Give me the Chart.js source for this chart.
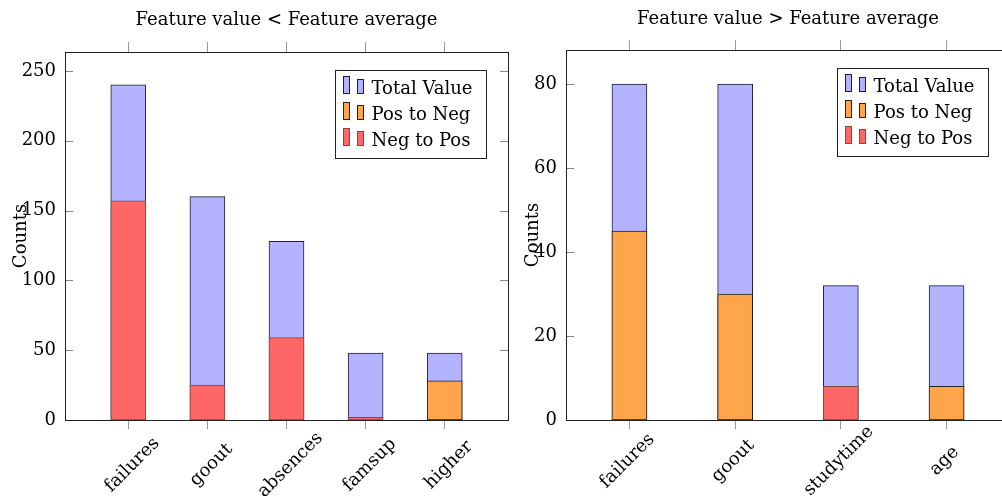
<!DOCTYPE html>
<html>
<head>
<meta charset="utf-8">
<script src="https://cdn.jsdelivr.net/npm/chart.js@4.4.1/dist/chart.umd.min.js"></script>
<style>
  html, body { margin: 0; padding: 0; background: #fff; overflow: hidden; }
  #wrap { position: relative; width: 1002px; height: 496px; overflow: hidden; }
  canvas { position: absolute; top: 0; }
  #leftChart { left: 0; }
  #rightChart { left: 515px; }
</style>
</head>
<body>
<div id="wrap">
  <canvas id="leftChart" width="515" height="496"></canvas>
  <canvas id="rightChart" width="500" height="496"></canvas>
</div>
<script>
// data
const lowCategories = ['failures', 'goout', 'absences', 'famsup', 'higher'];
const lowTotal = [240, 160, 128, 48, 48];
const lowPosToNeg = [null, null, null, null, 28];
const lowNegToPos = [157, 25, 59, 2, null];

const highCategories = ['failures', 'goout', 'studytime', 'age'];
const highTotal = [80, 80, 32, 32];
const highPosToNeg = [45, 30, null, 8];
const highNegToPos = [null, null, 8, null];

const seriesNames = ['Total Value', 'Pos to Neg', 'Neg to Pos'];
const fills = ['#b3b3ff', '#ffa64d', '#ff6666'];
const edges = ['#1c1c3c', '#222222', '#7d4b3a'];

const FONT = '"DejaVu Serif", serif';
const FONT_SIZE = 18;

// turn a value list into {x,y} points on the linear x axis
function toPoints(values) {
  return values.map((v, i) => ({ x: i, y: v }));
}

function makeDatasets(total, posNeg, negPos) {
  return [total, posNeg, negPos].map((vals, k) => ({
    label: seriesNames[k],
    data: toPoints(vals),
    backgroundColor: fills[k],
    borderColor: edges[k],
    borderWidth: 1,
    borderSkipped: false,
    barThickness: 35,
    grouped: false,
    order: 3 - k
  }));
}

// frame, inside y ticks, rotated x labels, title, ylabel and legend
const decorPlugin = {
  id: 'decor',
  afterDraw(chart, args, opts) {
    const ctx = chart.ctx;
    const area = chart.chartArea;
    const xs = chart.scales.x;
    const ys = chart.scales.y;
    ctx.save();

    // inside y ticks on both sides
    ctx.strokeStyle = '#888';
    ctx.lineWidth = 1;
    ys.ticks.forEach(t => {
      const py = Math.round(ys.getPixelForValue(t.value)) + 0.5;
      ctx.beginPath();
      ctx.moveTo(area.left, py); ctx.lineTo(area.left + 8, py);
      ctx.moveTo(area.right - 8, py); ctx.lineTo(area.right, py);
      ctx.stroke();
    });

    // frame
    ctx.strokeStyle = '#222';
    ctx.strokeRect(Math.round(area.left) + 0.5, Math.round(area.top) + 0.5,
      Math.round(area.right - area.left), Math.round(area.bottom - area.top));

    ctx.fillStyle = '#000';
    ctx.font = FONT_SIZE + 'px ' + FONT;

    // x tick labels, rotated about their centre
    ctx.textAlign = 'center';
    ctx.textBaseline = 'middle';
    opts.categories.forEach((c, i) => {
      const px = xs.getPixelForValue(i);
      ctx.save();
      ctx.translate(px + opts.labelDx, opts.labelY);
      ctx.rotate(-Math.PI / 4);
      ctx.fillText(c, 0, 0);
      ctx.restore();
    });

    // title
    ctx.fillText(opts.title, (area.left + area.right) / 2, opts.titleY);

    // y label
    ctx.save();
    ctx.translate(opts.ylabelX, (area.top + area.bottom) / 2);
    ctx.rotate(-Math.PI / 2);
    ctx.fillText('Counts', 0, 0);
    ctx.restore();

    // legend
    const bw = 151, bh = 88;
    const bx = Math.round(area.right - 22 - bw) + 0.5;
    const by = Math.round(area.top + 18) + 0.5;
    ctx.fillStyle = '#fff';
    ctx.fillRect(bx, by, bw, bh);
    ctx.strokeStyle = '#222';
    ctx.strokeRect(bx, by, bw, bh);
    ctx.textAlign = 'left';
    ctx.textBaseline = 'alphabetic';
    chart.data.datasets.forEach((ds, k) => {
      const base = by + 23 + k * 26;
      ctx.fillStyle = ds.backgroundColor;
      ctx.strokeStyle = ds.borderColor;
      ctx.fillRect(bx + 8, base - 17, 6, 17);
      ctx.strokeRect(bx + 8, base - 17, 6, 17);
      ctx.fillRect(bx + 22, base - 14, 6, 14);
      ctx.strokeRect(bx + 22, base - 14, 6, 14);
      ctx.fillStyle = '#000';
      ctx.fillText(ds.label, bx + 36, base);
    });

    ctx.restore();
  }
};

function buildChart(canvasId, cfg) {
  const n = cfg.categories.length;
  const catTicks = axis => { axis.ticks = cfg.categories.map((c, i) => ({ value: i })); };
  return new Chart(document.getElementById(canvasId), {
    type: 'bar',
    data: { datasets: makeDatasets(cfg.total, cfg.posNeg, cfg.negPos) },
    options: {
      responsive: false,
      animation: false,
      layout: { padding: { left: 0, right: cfg.padRight, top: 0, bottom: 0 } },
      plugins: {
        legend: { display: false },
        tooltip: { enabled: false },
        decor: {
          categories: cfg.categories,
          title: cfg.title,
          titleY: cfg.titleY,
          ylabelX: cfg.ylabelX,
          labelDx: cfg.labelDx,
          labelY: cfg.labelY
        }
      },
      scales: {
        x: {
          type: 'linear',
          position: 'bottom',
          offset: false,
          min: -cfg.pad,
          max: n - 1 + cfg.pad,
          afterBuildTicks: catTicks,
          afterFit: axis => { axis.height = 76; },
          grid: { offset: false, drawOnChartArea: false, tickLength: 9, color: '#999' },
          border: { display: false },
          ticks: { display: false }
        },
        x2: {
          type: 'linear',
          position: 'top',
          offset: false,
          min: -cfg.pad,
          max: n - 1 + cfg.pad,
          afterBuildTicks: catTicks,
          afterFit: axis => { axis.height = cfg.top; },
          grid: { offset: false, drawOnChartArea: false, tickLength: 10, color: '#999' },
          border: { display: false },
          ticks: { display: false }
        },
        y: {
          min: 0,
          max: cfg.yMax,
          afterFit: axis => { axis.width = cfg.yWidth; },
          grid: { display: false, drawTicks: false },
          border: { display: false },
          ticks: {
            stepSize: cfg.step,
            includeBounds: false,
            padding: 9,
            color: '#000',
            font: { family: FONT, size: FONT_SIZE }
          }
        }
      }
    },
    plugins: [decorPlugin]
  });
}

buildChart('leftChart', {
  categories: lowCategories,
  total: lowTotal,
  posNeg: lowPosToNeg,
  negPos: lowNegToPos,
  title: 'Feature value < Feature average',
  titleY: 20,
  ylabelX: 21,
  labelDx: 4,
  labelY: 465,
  pad: 0.8,
  padRight: 7,
  top: 52,
  yWidth: 65,
  yMax: 263.6,
  step: 50
});

buildChart('rightChart', {
  categories: highCategories,
  total: highTotal,
  posNeg: highPosToNeg,
  negPos: highNegToPos,
  title: 'Feature value > Feature average',
  titleY: 19,
  ylabelX: 18,
  labelDx: -2,
  labelY: 461,
  pad: 0.6,
  padRight: 5,
  top: 50,
  yWidth: 51,
  yMax: 88.1,
  step: 20
});
</script>
</body>
</html>
